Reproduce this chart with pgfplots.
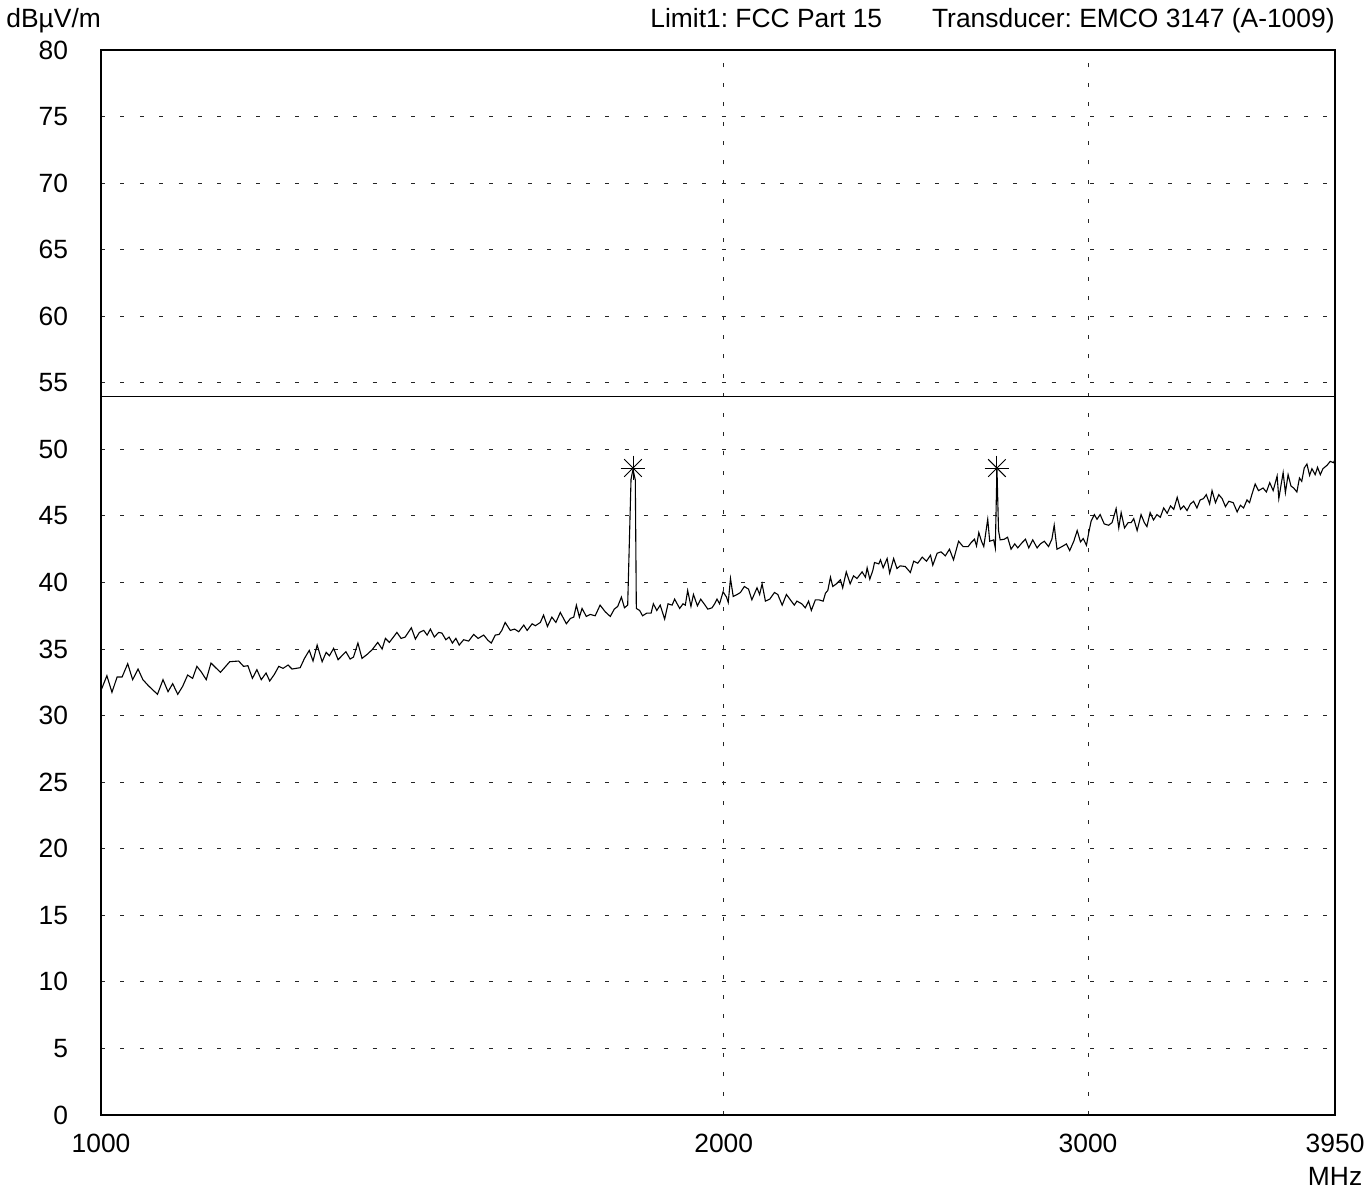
\documentclass[border=0pt]{standalone}
\usepackage{fontspec}
\setmainfont{Liberation Sans}
\usepackage{pgfplots}
\pgfplotsset{compat=1.18}
\frenchspacing
\newcommand{\lblfont}{\fontsize{13.2}{16.5}\selectfont}
\begin{document}
\begin{tikzpicture}
\useasboundingbox (-50.5pt,-39pt) rectangle (632.5pt,557.5pt);
\begin{axis}[
  at={(0pt,0pt)}, anchor=south west,
  scale only axis, width=617pt, height=532.5pt,
  xmode=log, xmin=1000, xmax=3950, ymin=0, ymax=80,
  xtick={1000,2000,3000,3950},
  xticklabels={1000,2000,3000,{3950\\MHz}},
  ytick={0,5,...,80},
  minor xtick={}, minor ytick={},
  major tick length=0pt,
  axis line style={black, line width=0.75pt},
  grid=major,
  major grid style={black!85, line width=0.5pt, dash pattern=on 2pt off 7.7pt},
  /pgf/number format/assume math mode=true,
  ticklabel style={font=\lblfont},
  xticklabel style={align=center, yshift=-6pt},
  yticklabel style={xshift=-13pt},
  clip=false,
]
\addplot[black, line width=0.6pt] coordinates {(1000,54) (3950,54)};
\addplot[black, line width=0.55pt] coordinates {
(1000,31.9) (1006.5,33.0) (1012.2,31.75) (1018.0,32.9) (1023.7,32.9) (1030.1,33.9) (1035.8,32.7) (1042.0,33.5) (1047.7,32.7) (1054.1,32.25)
(1064.8,31.6) (1071.4,32.7) (1077.4,31.8) (1083.0,32.4) (1089.1,31.6) (1095.1,32.2) (1101.2,33.05) (1107.3,32.8) (1112.6,33.7) (1117.8,33.3)
(1124.2,32.7) (1130.2,33.95) (1142.1,33.25) (1154.0,34.05) (1165.5,34.1) (1171.9,33.7) (1177.5,33.75) (1183.5,32.8) (1189.4,33.45) (1195.2,32.7)
(1201.6,33.2) (1206.5,32.6) (1212.8,33.1) (1218.7,33.7) (1224.6,33.55) (1231.4,33.8) (1236.8,33.5) (1248.1,33.6) (1254.1,34.3) (1260.8,34.9)
(1266.1,34.1) (1271.9,35.3) (1279.0,34.05) (1284.7,34.75) (1289.4,34.5) (1295.5,35.05) (1301.9,34.2) (1313.3,34.8) (1319.5,34.25) (1324.4,34.4)
(1331.0,35.45) (1337.1,34.3) (1344.7,34.6) (1352.2,34.95) (1360.7,35.5) (1367.3,35.0) (1372.3,35.8) (1378.4,35.5) (1390.0,36.25) (1396.5,35.8)
(1402.9,35.9) (1412.5,36.6) (1418.9,35.75) (1425.3,36.25) (1432.1,36.4) (1437.6,36.05) (1442.8,36.5) (1449.2,35.9) (1456.1,36.25) (1461.5,36.2)
(1467.9,35.7) (1473.2,35.9) (1478.6,35.45) (1484.3,35.8) (1489.9,35.3) (1497.2,35.7) (1505.6,35.6) (1514.1,36.1) (1521.5,35.8) (1531.0,36.05)
(1538.4,35.65) (1544.0,35.45) (1550.8,36.05) (1557.5,36.1) (1562.2,36.4) (1568.1,37.0) (1577.0,36.4) (1584.7,36.5) (1591.8,36.3) (1600.8,36.8)
(1606.9,36.4) (1615.8,36.9) (1621.7,36.75) (1630.6,37.0) (1636.5,37.55) (1643.7,36.7) (1651.6,37.4) (1659.2,37.0) (1667.3,37.75) (1678.6,36.9)
(1686.2,37.3) (1692.4,37.4) (1697.5,38.3) (1703.2,37.4) (1708.3,38.05) (1716.4,37.45) (1723.9,37.6) (1733.4,37.5) (1742.8,38.3) (1752.7,37.8)
(1762.7,37.45) (1770.7,38.0) (1777.3,38.2) (1784.7,38.9) (1790.7,38.1) (1797.3,38.3) (1804.0,47.75) (1808.0,48.5) (1812.6,47.7) (1814.6,38.05)
(1821.2,37.9) (1827.2,37.5) (1836.0,37.7) (1844.6,37.7) (1849.5,38.4) (1856.6,37.9) (1863.6,38.3) (1872.7,37.25) (1879.9,38.4) (1888.3,38.3)
(1893.8,38.75) (1904.4,38.05) (1911.6,38.4) (1916.4,38.3) (1921.3,39.4) (1928.4,38.2) (1933.9,39.1) (1942.4,38.25) (1949.6,38.75) (1956.9,38.4)
(1965.2,38.0) (1974.1,38.1) (1980.0,38.4) (1985.3,38.75) (1991.1,38.4) (1998.7,39.3) (2006.1,38.9) (2009.9,38.5) (2015.0,40.3) (2021.1,38.95)
(2030.0,39.1) (2037.4,39.25) (2046.3,39.7) (2055.8,39.5) (2063.5,38.7) (2075.3,39.6) (2081.4,39.1) (2087.1,39.9) (2094.9,38.6) (2105.0,38.75)
(2116.1,39.25) (2123.9,39.1) (2134.3,38.3) (2144.4,39.1) (2153.8,38.7) (2163.3,38.3) (2169.6,38.6) (2181.5,38.4) (2189.8,38.1) (2198.0,38.6)
(2204.7,37.9) (2214.7,38.7) (2223.0,38.7) (2234.0,38.6) (2239.7,39.2) (2245.5,39.4) (2252.2,40.4) (2258.0,39.7) (2267.2,39.9) (2277.2,40.2)
(2283.0,39.6) (2292.1,40.8) (2302.1,39.9) (2310.7,40.5) (2319.6,40.3) (2332.8,40.8) (2341.5,40.4) (2346.0,41.1) (2352.9,40.25) (2360.8,40.9)
(2365.3,41.5) (2376.6,41.4) (2381.1,41.7) (2388.2,41.1) (2398.8,41.8) (2405.6,40.7) (2416.2,41.8) (2425.2,41.05) (2433.9,41.25) (2447.7,41.2)
(2461.6,40.75) (2470.8,41.6) (2482.0,41.45) (2494.2,41.9) (2506.2,41.6) (2517.4,42.05) (2523.8,41.3) (2536.1,42.2) (2547.2,42.3) (2559.2,42.0)
(2571.2,42.5) (2582.7,41.7) (2597.4,43.1) (2610.4,42.7) (2625.2,42.7) (2634.0,43.0) (2643.8,43.25) (2649.7,42.75) (2656.5,43.75) (2664.4,43.1)
(2671.2,42.7) (2683.0,44.75) (2688.9,43.1) (2700.7,43.2) (2705.7,42.6) (2710.7,48.6) (2715.5,43.9) (2720.5,43.2) (2732.8,43.25) (2743.0,43.4)
(2753.6,42.5) (2764.9,42.9) (2774.2,42.6) (2787.9,43.0) (2798.2,43.25) (2808.5,42.6) (2821.0,43.2) (2834.7,42.6) (2845.0,42.9) (2857.5,43.1)
(2870.9,42.7) (2881.6,43.25) (2889.2,44.3) (2898.1,42.5) (2914.6,42.7) (2928.7,42.9) (2939.6,42.4) (2952.8,43.1) (2964.0,43.9) (2974.9,43.05)
(2983.8,43.3) (2994.7,42.8) (3002.3,43.75) (3010.2,44.6) (3021.1,45.1) (3030.0,44.75) (3040.8,45.1) (3054.6,44.4) (3069.5,44.3) (3081.4,44.5)
(3095.3,45.55) (3104.4,44.1) (3112.7,45.25) (3124.2,44.1) (3137.1,44.5) (3147.6,44.5) (3156.6,44.8) (3168.5,43.9) (3182.4,45.1) (3193.9,44.5)
(3203.3,44.2) (3214.8,45.25) (3226.8,44.7) (3239.3,45.1) (3251.5,44.9) (3263.6,45.6) (3276.1,45.2) (3288.3,45.75) (3300.5,45.5) (3313.0,46.4)
(3325.2,45.5) (3337.3,45.75) (3349.8,45.4) (3362.0,45.9) (3374.1,46.1) (3386.7,45.6) (3398.8,46.2) (3411.5,46.3) (3422.0,46.6) (3434.9,45.9)
(3444.2,46.9) (3457.1,46.0) (3469.9,46.6) (3483.2,46.3) (3496.0,45.7) (3508.9,46.1) (3526.0,46.0) (3541.6,45.3) (3554.5,45.8) (3567.3,45.6)
(3580.6,46.2) (3590.7,46.0) (3600.2,46.6) (3613.8,47.4) (3627.4,46.9) (3645.5,47.1) (3659.1,46.8) (3672.7,47.5) (3686.7,46.9) (3703.2,48.0)
(3709.8,46.3) (3719.7,47.4) (3727.9,48.25) (3737.4,46.75) (3748.5,48.1) (3760.8,47.25) (3771.5,47.1) (3785.5,46.8) (3796.2,47.85) (3806.2,47.6)
(3816.2,48.6) (3827.8,48.9) (3839.0,48.05) (3849.4,48.55) (3863.6,48.1) (3873.6,48.65) (3885.2,48.1) (3896.9,48.55) (3914.2,48.8) (3928.4,49.1)
(3942.7,49.0) (3950,49.25)
};
\addplot[only marks, mark=+, mark size=6.2pt, mark options={line width=0.5pt}] coordinates {(1808,48.6) (2710.7,48.6)};
\addplot[only marks, mark=x, mark size=6.2pt, mark options={line width=0.5pt}] coordinates {(1808,48.6) (2710.7,48.6)};
\end{axis}
\node[anchor=base west, font=\lblfont, inner sep=0pt] at (-47.5pt,543.5pt) {dBµV/m};
\node[anchor=base west, font=\lblfont, inner sep=0pt] at (274.5pt,543.5pt) {Limit1: FCC Part 15};
\node[anchor=base east, font=\lblfont, inner sep=0pt] at (617pt,543.5pt) {Transducer: EMCO 3147 (A-1009)};
\end{tikzpicture}
\end{document}
